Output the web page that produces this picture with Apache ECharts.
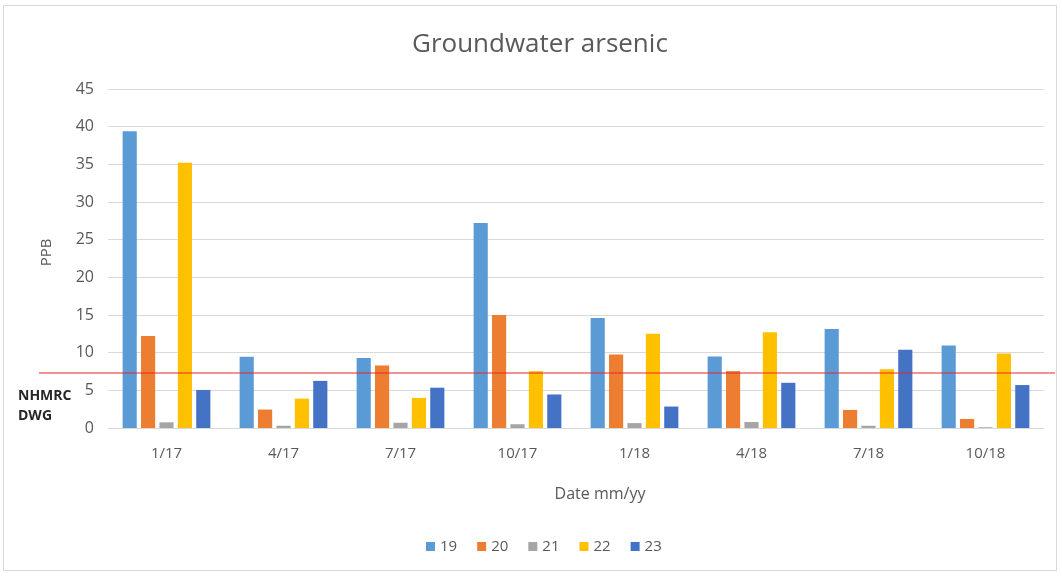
<!DOCTYPE html>
<html>
<head>
<meta charset="utf-8">
<script src="https://cdn.jsdelivr.net/npm/echarts@6/dist/echarts.min.js"></script>
<style>
html, body { margin: 0; padding: 0; background: #fff; }
#main { position: absolute; left: 3px; top: 5px; width: 1054px; height: 566px; border: 1px solid #d9d9d9; box-sizing: border-box; }
</style>
</head>
<body>
<div id="main"></div>
<script>
// dates (mm/yy)
var dates = ['1/17', '4/17', '7/17', '10/17', '1/18', '4/18', '7/18', '10/18'];
// bores
var bores = ['19', '20', '21', '22', '23'];
var bore19 = [39.4, 9.45, 9.3, 27.2, 14.6, 9.5, 13.15, 10.95];
var bore20 = [12.2, 2.45, 8.3, 15.0, 9.75, 7.55, 2.4, 1.2];
var bore21 = [0.75, 0.3, 0.7, 0.5, 0.65, 0.8, 0.3, 0.1];
var bore22 = [35.2, 3.9, 4.0, 7.55, 12.5, 12.7, 7.8, 9.9];
var bore23 = [5.05, 6.25, 5.35, 4.45, 2.85, 6.0, 10.4, 5.7];
var boreData = [bore19, bore20, bore21, bore22, bore23];
// NHMRC DWG guideline (ppb), drawn across the whole width
var dwgLimit = 7.3;
var dwgLine = [dwgLimit, dwgLimit];
var yTicks = [0, 45, 5];

var colors = ['#5B9BD5', '#ED7D31', '#A5A5A5', '#FFC000', '#4472C4'];
var fontFam = '"Open Sans", "Liberation Sans", sans-serif';

var myChart = echarts.init(document.getElementById('main'));

var seriesList = [];
for (var i = 0; i < bores.length; i++) {
    seriesList.push({
        name: bores[i],
        type: 'bar',
        xAxisIndex: 0,
        yAxisIndex: 0,
        barGap: '30%',
        barCategoryGap: '25%',
        itemStyle: { color: colors[i] },
        data: boreData[i]
    });
}
// red guideline, on a wider hidden grid so it runs past the plot
seriesList.push({
    name: 'dwg',
    type: 'line',
    xAxisIndex: 1,
    yAxisIndex: 1,
    data: dwgLine,
    silent: true,
    symbol: 'none',
    lineStyle: { color: '#E8242B', width: 1 },
    emphasis: { disabled: true }
});

var option = {
    animation: false,
    color: colors,
    textStyle: { fontFamily: fontFam },
    title: [{
        text: 'Groundwater arsenic',
        left: 403,
        top: 21,
        textStyle: { fontSize: 26, fontWeight: 'normal', color: '#595959', fontFamily: fontFam }
    }, {
        text: 'NHMRC\nDWG',
        left: 9,
        top: 375,
        textStyle: { fontSize: 14, fontWeight: 'bold', color: '#262626', lineHeight: 20, fontFamily: fontFam }
    }],
    legend: {
        data: bores,
        bottom: 11,
        left: 417,
        itemWidth: 9,
        itemHeight: 9,
        itemGap: 20,
        icon: 'rect',
        textStyle: { fontSize: 15, color: '#595959', fontFamily: fontFam }
    },
    grid: [{
        left: 104,
        right: 12,
        top: 83,
        bottom: 142
    }, {
        left: 35,
        right: 1,
        top: 83,
        bottom: 142
    }],
    xAxis: [{
        type: 'category',
        gridIndex: 0,
        data: dates,
        name: 'Date mm/yy',
        nameLocation: 'middle',
        nameGap: 58,
        nameTextStyle: { fontSize: 16, color: '#595959', padding: [0, 0, 0, 48] },
        axisTick: { show: false },
        axisLine: { lineStyle: { color: '#d9d9d9' } },
        axisLabel: { color: '#595959', fontSize: 15, margin: 18 }
    }, {
        type: 'category',
        gridIndex: 1,
        data: ['a', 'b'],
        boundaryGap: false,
        show: false
    }],
    yAxis: [{
        type: 'value',
        gridIndex: 0,
        min: yTicks[0],
        max: yTicks[1],
        interval: yTicks[2],
        name: 'PPB',
        nameLocation: 'middle',
        nameGap: 54,
        nameTextStyle: { fontSize: 15, color: '#595959', padding: [0, 0, 0, 12] },
        axisLine: { show: false },
        axisTick: { show: false },
        axisLabel: { color: '#595959', fontSize: 16, margin: 14 },
        splitLine: { lineStyle: { color: '#d9d9d9' } }
    }, {
        type: 'value',
        gridIndex: 1,
        min: yTicks[0],
        max: yTicks[1],
        show: false
    }],
    series: seriesList
};

myChart.setOption(option);
</script>
</body>
</html>
